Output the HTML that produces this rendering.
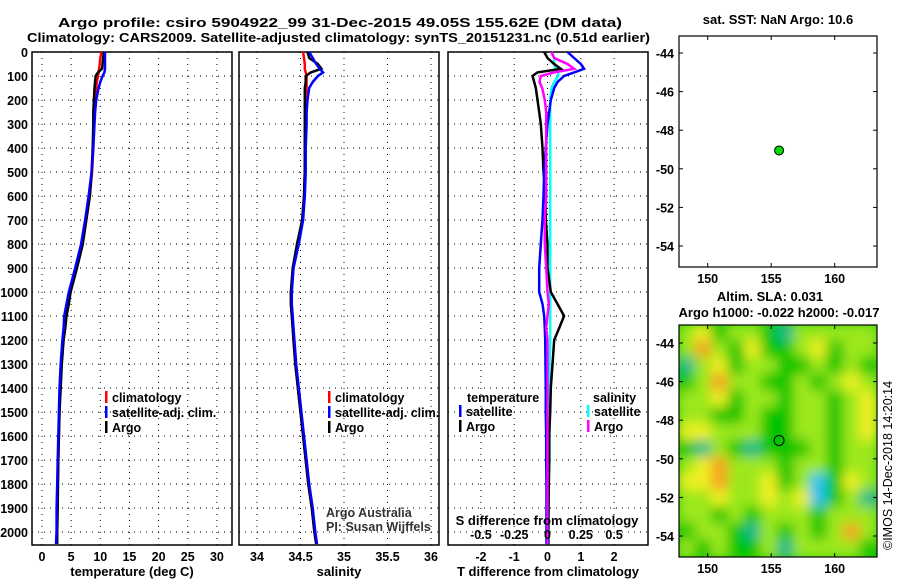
<!DOCTYPE html>
<html><head><meta charset="utf-8"><style>
html,body{margin:0;padding:0;background:#fff}
svg{display:block;font-family:"Liberation Sans",sans-serif}
.t{font-weight:bold;font-size:13px}
.tk{font-weight:bold;font-size:12.5px}
</style></head><body>
<svg id="s" width="900" height="580" viewBox="0 0 900 580">
<defs>
<filter id="bl" filterUnits="userSpaceOnUse" x="660" y="300" width="240" height="280"><feGaussianBlur stdDeviation="6"/></filter>
<clipPath id="mc"><rect x="679" y="325" width="198" height="232"/></clipPath>
</defs>
<text x="58" y="27" class="t" font-size="14.5" textLength="564" lengthAdjust="spacingAndGlyphs">Argo profile: csiro 5904922_99 31-Dec-2015 49.05S 155.62E (DM data)</text>
<text x="27" y="42" class="t" font-size="14.5" textLength="623" lengthAdjust="spacingAndGlyphs">Climatology: CARS2009. Satellite-adjusted climatology: synTS_20151231.nc (0.51d earlier)</text>
<g id="g"></g>
</svg>
<script>
const depths=[0,25,50,70,85,100,125,150,200,250,300,400,500,600,700,800,900,1000,1050,1100,1150,1200,1300,1400,1500,1600,1700,1800,1900,2000,2050];
const tArgo=[10.6,10.5,10.4,10.3,9.6,9.2,9.1,9.0,8.9,8.8,8.8,8.7,8.5,8.2,7.6,7.0,6.0,4.9,4.6,4.2,4.0,3.7,3.4,3.2,3.0,2.9,2.8,2.75,2.7,2.6,2.6];
const tClim=[10.2,10.0,9.9,9.8,9.7,9.6,9.4,9.3,9.1,9.0,8.9,8.8,8.6,8.2,7.6,6.9,5.9,4.8,4.4,4.0,3.8,3.6,3.3,3.1,3.0,2.9,2.8,2.7,2.6,2.5,2.5];
const tSat=[10.8,10.8,10.8,10.8,10.7,10.4,10.0,9.7,9.3,9.1,9.0,8.8,8.5,8.0,7.4,6.7,5.7,4.6,4.2,3.8,3.7,3.5,3.2,3.0,2.9,2.8,2.7,2.6,2.5,2.5,2.4];
const sArgo=[34.58,34.6,34.7,34.74,34.62,34.56,34.56,34.55,34.55,34.55,34.55,34.55,34.55,34.54,34.52,34.46,34.41,34.39,34.39,34.4,34.41,34.42,34.44,34.47,34.5,34.53,34.56,34.59,34.63,34.66,34.68];
const sClim=[34.53,34.54,34.55,34.55,34.56,34.57,34.57,34.57,34.56,34.56,34.56,34.55,34.55,34.54,34.52,34.47,34.42,34.39,34.39,34.4,34.41,34.42,34.44,34.47,34.5,34.53,34.56,34.59,34.63,34.66,34.68];
const sSat=[34.6,34.64,34.68,34.72,34.76,34.7,34.64,34.6,34.58,34.57,34.57,34.56,34.56,34.55,34.53,34.48,34.42,34.4,34.4,34.41,34.42,34.43,34.45,34.48,34.51,34.54,34.57,34.6,34.64,34.67,34.69];
const tDiffArgo=[-0.1,0,0.2,0.4,-0.3,-0.45,-0.4,-0.35,-0.3,-0.25,-0.2,-0.15,-0.12,-0.05,-0.05,0,0,0.1,0.3,0.5,0.35,0.2,0.15,0.1,0.08,0.05,0.05,0.04,0.03,0.02,0.02];
const tDiffSat=[0.6,0.8,1.0,1.1,0.8,0.5,0.3,0.2,0.1,0.05,0,-0.05,-0.1,-0.12,-0.15,-0.2,-0.25,-0.25,-0.15,-0.1,-0.08,-0.07,-0.06,-0.05,-0.05,-0.04,-0.04,-0.03,-0.03,-0.03,-0.03];
const sDiffArgo=[0.03,0.05,0.15,0.2,0.05,-0.05,-0.06,-0.04,-0.02,-0.01,-0.01,-0.01,-0.01,-0.01,-0.02,-0.02,-0.01,0,0.01,0,-0.01,0,0,0,0,0,0,0,0,0,0];
const sDiffSat=[0.03,0.05,0.05,0.06,0.08,0.08,0.05,0.03,0.02,0.02,0.02,0.02,0.02,0.02,0.02,0.02,0.02,0.02,0.02,0.02,0.02,0.02,0.015,0.015,0.015,0.015,0.015,0.01,0.01,0.01,0.01];
const depthTicks=[0,100,200,300,400,500,600,700,800,900,1000,1100,1200,1300,1400,1500,1600,1700,1800,1900,2000];
const tTicks=[0,5,10,15,20,25,30];
const sTicks=[34,34.5,35,35.5,36];
const sTickLabels=["34","34.5","35","35.5","36"];
const dTTicks=[-2,-1,0,1,2];
const dSTicks=[-0.5,-0.25,0,0.25,0.5];
const dSTickLabels=["-0.5","-0.25","0","0.25","0.5"];
const lonTicks=[150,155,160];
const latTicks=[-44,-46,-48,-50,-52,-54];
const floatLon=155.62, floatLat=-49.05;
const slaGrid=[
[1,2,0,1,1,0,-1,1,1,1,1,1],
[1,3,1,0,2,0,0,1,2,0,1,1],
[-1,1,2,0,1,1,0,0,1,0,1,0],
[0,1,3,1,1,0,0,1,0,1,2,1],
[1,1,2,0,1,1,0,1,1,0,1,2],
[1,1,0,0,1,0,0,1,1,0,1,2],
[2,2,1,1,1,0,0,1,1,0,1,2],
[0,-1,1,0,-1,0,0,0,1,0,1,1],
[1,2,3,1,1,1,0,1,1,0,1,1],
[2,2,3,1,1,2,0,1,-2,0,2,1],
[1,1,2,1,1,2,1,2,-2,0,1,-1],
[1,1,0,1,0,1,1,1,0,1,1,1],
[0,1,1,0,-1,1,0,1,0,1,3,1],
[1,0,1,0,0,1,-1,1,1,1,1,0]];

const NS='http://www.w3.org/2000/svg';
const G=document.getElementById('g');
function mk(tag,at,par){const e=document.createElementNS(NS,tag);for(const k in at)e.setAttribute(k,at[k]);(par||G).appendChild(e);return e;}
function txt(x,y,s,anchor,cls,par){const e=mk('text',{x:x,y:y,'text-anchor':anchor||'middle','class':cls||'tk'},par);e.textContent=s;return e;}
const Y=d=>52+d*0.24;
const TOP=52,BOT=545;
function panel(name,L,R,xs,ticks,labels,title){
  const p=mk('g',{});
  
  
  depthTicks.forEach(d=>{mk('line',{x1:L,x2:R,y1:Y(d),y2:Y(d),stroke:'#000','stroke-width':1,'stroke-dasharray':'1,5'},p);});
  ticks.forEach((v,i)=>{const x=xs(v);mk('line',{x1:x,x2:x,y1:TOP,y2:BOT,stroke:'#000','stroke-width':1,'stroke-dasharray':'1,5'},p);
    const t=txt(x,561,labels[i],'middle','tk',p);
    
    });
  mk('rect',{x:L,y:TOP,width:R-L,height:BOT-TOP,fill:'none',stroke:'#000','stroke-width':1.5},p);
  const tt=txt((L+R)/2,576,title,'middle','t',p);
  
  
  return p;
}
function line(p,xs,vals,col,w,name){
  const pts=depths.map((d,i)=>xs(vals[i]).toFixed(1)+','+Y(d).toFixed(1)).join(' ');
  const e=mk('polyline',{points:pts,fill:'none',stroke:col,'stroke-width':w||2.5},p);
  
  
}
function legend(p,x,y,items){
  items.forEach((it,i)=>{mk('rect',{x:x,y:y+i*15-11,width:2.5,height:12,fill:it[1]},p);
    const t=txt(x+7,y+i*15,it[0],'start','tk',p);
    
    });
}
depthTicks.forEach(d=>{const t=txt(28,Y(d)+5,String(d),'end');
  
  });
const xT=v=>42+v*5.83;
const p1=panel('temperature-panel',32,232,xT,tTicks,tTicks.map(String),'temperature (deg C)');
line(p1,xT,tClim,'#f00',2.5,'temp-climatology-line');
line(p1,xT,tArgo,'#000',2.5,'temp-argo-line');
line(p1,xT,tSat,'#00f',2.5,'temp-satellite-line');
legend(p1,105,402,[['climatology','#f00'],['satellite-adj. clim.','#00f'],['Argo','#000']]);
const xS=v=>257+(v-34)*87;
const p2=panel('salinity-panel',239,439,xS,sTicks,sTickLabels,'salinity');
line(p2,xS,sClim,'#f00',2.5,'sal-climatology-line');
line(p2,xS,sArgo,'#000',2.5,'sal-argo-line');
line(p2,xS,sSat,'#00f',2.5,'sal-satellite-line');
legend(p2,328,402,[['climatology','#f00'],['satellite-adj. clim.','#00f'],['Argo','#000']]);
const a1=txt(326,517,'Argo Australia','start','',p2);a1.setAttribute('font-size','12.5');a1.setAttribute('fill','#333');


const a2=txt(326,531,'PI: Susan Wijffels','start','',p2);a2.setAttribute('font-size','12.5');a2.setAttribute('fill','#333');


const xD=v=>547.5+v*33.3;
const xDS=v=>547.5+v*133.2;
const p3=panel('difference-panel',448,648,xD,dTTicks,dTTicks.map(String),'T difference from climatology');
line(p3,xDS,sDiffSat,'#0ff',2.5,'sdiff-satellite-line');
line(p3,xD,tDiffArgo,'#000',2.5,'tdiff-argo-line');
line(p3,xD,tDiffSat,'#00f',2.5,'tdiff-satellite-line');
line(p3,xDS,sDiffArgo,'#f0f',2.5,'sdiff-argo-line');
const sl=txt(547,525,'S difference from climatology','middle','t',p3);


dSTicks.forEach((v,i)=>{const t=txt(xDS(v),539,dSTickLabels[i],'middle','tk',p3);
  
  });
const lt=txt(467,402,'temperature','start','tk',p3);


legend(p3,459,416,[['satellite','#00f'],['Argo','#000']]);
const ls=txt(593,402,'salinity','start','tk',p3);


legend(p3,587,416,[['satellite','#0ff'],['Argo','#f0f']]);
const mx=v=>707.7+(v-150)*12.7;
function mapAxes(p,top,bot,latTop){
  const my=v=>latTop+(-44-v)*19.3;
  latTicks.forEach(v=>{const y=my(v);mk('line',{x1:679,x2:683,y1:y,y2:y,stroke:'#000'},p);mk('line',{x1:873,x2:877,y1:y,y2:y,stroke:'#000'},p);
    const t=txt(674,y+5,String(v),'end','tk',p);
    
    });
  lonTicks.forEach(v=>{const x=mx(v);mk('line',{x1:x,x2:x,y1:top,y2:top+4,stroke:'#000'},p);mk('line',{x1:x,x2:x,y1:bot-4,y2:bot,stroke:'#000'},p);
    const t=txt(x,bot+16,String(v),'middle','tk',p);
    
    });
  mk('rect',{x:679,y:top,width:198,height:bot-top,fill:'none',stroke:'#000','stroke-width':1.2},p);
  return my;
}
const m1=mk('g',{});


const my1=mapAxes(m1,36,267,53);
const dot=mk('circle',{cx:mx(floatLon),cy:my1(floatLat),r:4.5,fill:'#0d0',stroke:'#000','stroke-width':1},m1);


const mt1=txt(778,24,'sat. SST: NaN Argo: 10.6','middle','t',m1);


const m2=mk('g',{});


const colors={'-2':'#20c0f0','-1':'#10b890','0':'#00c400','1':'#9ce81c','2':'#f0f020','3':'#f8a020'};
const hm=mk('g',{'clip-path':'url(#mc)'},m2);
mk('rect',{x:679,y:325,width:198,height:232,fill:'#30cc10'},hm);
const hb=mk('g',{filter:'url(#bl)'},hm);
const cw=198/12,ch=232/14;
slaGrid.forEach((row,r)=>row.forEach((v,c)=>{const e=mk('rect',{x:679+c*cw-1,y:325+r*ch-1,width:cw+2,height:ch+2,fill:colors[v]},hb);
  
  }));
const my2=mapAxes(m2,325,557,343);
const dot2=mk('circle',{cx:mx(floatLon),cy:my2(floatLat),r:5,fill:'none',stroke:'#000','stroke-width':1},m2);


const mt2=txt(770,301,'Altim. SLA: 0.031','middle','t',m2);


const mt3=txt(779,317,'Argo h1000: -0.022 h2000: -0.017','middle','t',m2);


const cr=mk('text',{x:0,y:0,transform:'translate(892,550) rotate(-90)','font-size':'12.5'},m2);
cr.textContent='©IMOS 14-Dec-2018 14:20:14';


</script>
</body></html>
